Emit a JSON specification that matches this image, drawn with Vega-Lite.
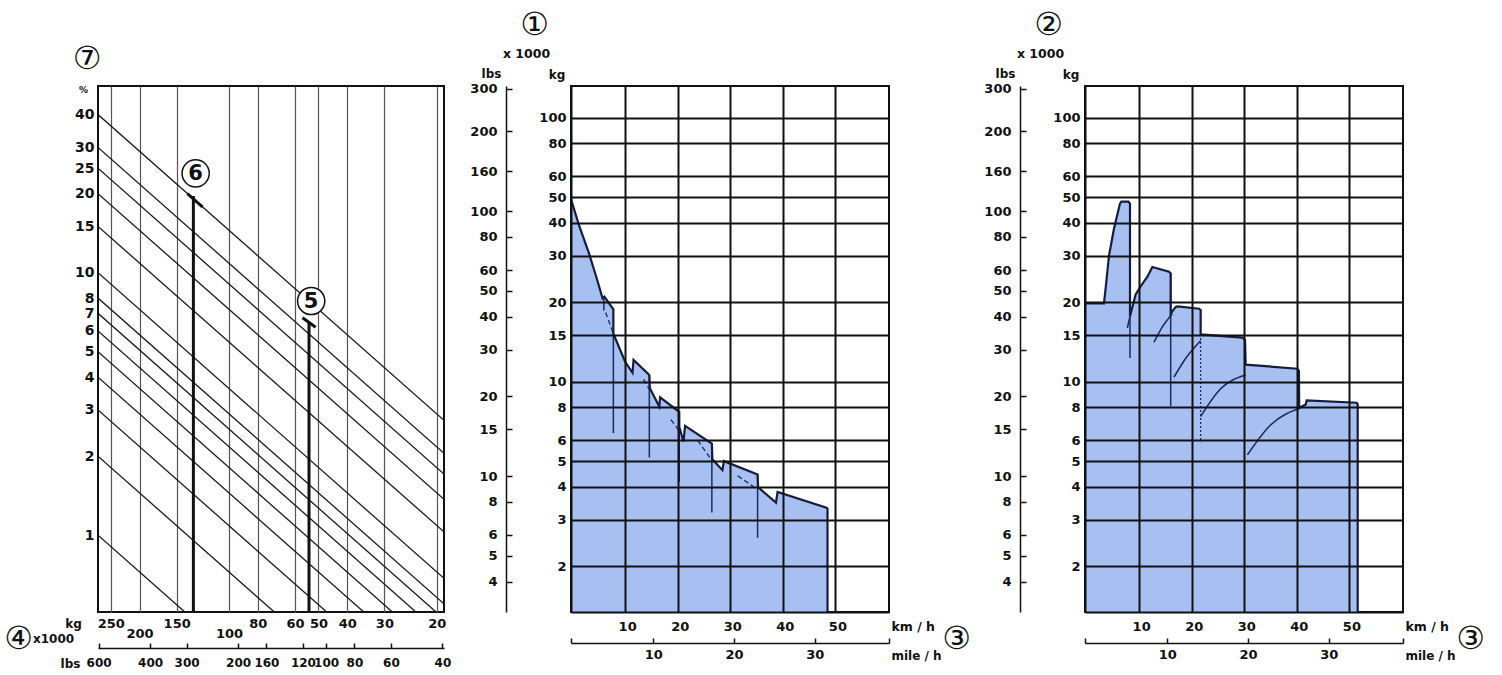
{
  "$schema": "https://vega.github.io/schema/vega-lite/v6.json",
  "background": "white",
  "padding": {"left": 2, "top": 7, "right": 5, "bottom": 5},
  "config": {
    "view": {"stroke": "#111111", "strokeWidth": 2},
    "font": "DejaVu Sans",
    "axis": {
      "labelFont": "DejaVu Sans", "labelFontWeight": "bold", "labelFontSize": 13, "labelColor": "#111111",
      "titleFont": "DejaVu Sans", "titleFontWeight": "bold", "titleColor": "#111111", "titleFontSize": 12,
      "labelFlush": false, "labelOverlap": false, "labelBound": false,
      "titleAlign": "center", "titleBaseline": "middle", "grid": false
    }
  },
  "datasets": {
    "gradeLines": [
      {"s":40,"w":276,"g":40},{"s":40,"w":18.9,"g":2.74},
      {"s":30,"w":276,"g":30},{"s":30,"w":18.9,"g":2.05},
      {"s":25,"w":276,"g":25},{"s":25,"w":18.9,"g":1.71},
      {"s":20,"w":276,"g":20},{"s":20,"w":18.9,"g":1.37},
      {"s":15,"w":276,"g":15},{"s":15,"w":18.9,"g":1.03},
      {"s":10,"w":276,"g":10},{"s":10,"w":18.9,"g":0.685},
      {"s":8,"w":276,"g":8},{"s":8,"w":18.9,"g":0.548},
      {"s":7,"w":276,"g":7},{"s":7,"w":20.1,"g":0.51},
      {"s":6,"w":276,"g":6},{"s":6,"w":23.5,"g":0.51},
      {"s":5,"w":276,"g":5},{"s":5,"w":28.2,"g":0.51},
      {"s":4,"w":276,"g":4},{"s":4,"w":35.2,"g":0.51},
      {"s":3,"w":276,"g":3},{"s":3,"w":46.9,"g":0.51},
      {"s":2,"w":276,"g":2},{"s":2,"w":70.4,"g":0.51},
      {"s":1,"w":276,"g":1},{"s":1,"w":140.8,"g":0.51}
    ],
    "leftMarks": [{"w":131.8,"g1":0.51,"g2":19.6},{"w":53.8,"g1":0.51,"g2":6.5}],
    "leftHooks": [{"w1":138.1,"g1":20.0,"w2":122.9,"g2":17.8},{"w1":56.6,"g1":6.73,"w2":51.1,"g2":6.2}],
    "leftCircles": [{"w":129.5,"g":23.9,"t":"6"},{"w":52.9,"g":7.8,"t":"5"}],
    "midEnv": [
      {"i":0,"k":-0.3,"v":49.2},{"i":1,"k":1.25,"v":39.0},{"i":2,"k":3.16,"v":30.5},{"i":3,"k":4.6,"v":24.6},
      {"i":4,"k":5.7,"v":20.7},{"i":5,"k":6.05,"v":21.0},{"i":6,"k":7.76,"v":18.8},{"i":7,"k":7.76,"v":15.2},
      {"i":8,"k":10.0,"v":11.9},{"i":9,"k":11.4,"v":10.8},{"i":10,"k":11.6,"v":12.1},{"i":11,"k":14.6,"v":10.6},
      {"i":12,"k":14.7,"v":9.45},{"i":13,"k":16.5,"v":8.05},{"i":14,"k":16.65,"v":8.72},{"i":15,"k":20.3,"v":7.69},
      {"i":16,"k":20.3,"v":6.75},{"i":17,"k":21.1,"v":5.92},{"i":18,"k":21.4,"v":6.8},{"i":19,"k":26.5,"v":5.82},
      {"i":20,"k":26.6,"v":5.08},{"i":21,"k":28.5,"v":4.62},{"i":22,"k":28.8,"v":5.0},{"i":23,"k":35.2,"v":4.45},
      {"i":24,"k":35.3,"v":3.98},{"i":25,"k":38.7,"v":3.48},{"i":26,"k":39.0,"v":3.82},{"i":27,"k":48.3,"v":3.33},
      {"i":28,"k":48.5,"v":3.3},{"i":29,"k":48.5,"v":1.34}
    ],
    "midThin": [
      {"k1":5.95,"v1":21.0,"k2":5.95,"v2":18.6},
      {"k1":7.76,"v1":15.2,"k2":7.76,"v2":6.38},
      {"k1":14.6,"v1":10.6,"k2":14.6,"v2":5.16},
      {"k1":20.3,"v1":7.69,"k2":20.3,"v2":4.17},
      {"k1":26.5,"v1":5.82,"k2":26.5,"v2":3.19},
      {"k1":35.2,"v1":4.45,"k2":35.2,"v2":2.56}
    ],
    "midDash": [
      {"k1":6.3,"v1":18.3,"k2":7.76,"v2":15.2},
      {"k1":13.5,"v1":10.2,"k2":14.6,"v2":9.35},
      {"k1":18.7,"v1":7.18,"k2":20.3,"v2":6.5},
      {"k1":23.8,"v1":6.0,"k2":26.6,"v2":5.0},
      {"k1":31.4,"v1":4.4,"k2":35.2,"v2":3.9}
    ],
    "rightEnv": [
      {"i":0,"k":-0.3,"v":19.8},{"i":1,"k":3.31,"v":19.8},{"i":2,"k":3.63,"v":22.6},{"i":3,"k":4.26,"v":30.0},
      {"i":4,"k":5.21,"v":38.0},{"i":5,"k":6.35,"v":47.3},{"i":6,"k":6.62,"v":48.1},{"i":7,"k":7.95,"v":48.1},
      {"i":8,"k":8.26,"v":47.3},{"i":9,"k":8.26,"v":17.7},{"i":10,"k":9.34,"v":21.4},{"i":11,"k":10.3,"v":23.0},
      {"i":12,"k":11.57,"v":25.0},{"i":13,"k":12.52,"v":27.2},{"i":14,"k":15.68,"v":26.1},{"i":15,"k":16.0,"v":25.7},
      {"i":16,"k":16.0,"v":18.1},{"i":17,"k":16.95,"v":19.2},{"i":18,"k":17.33,"v":19.3},{"i":19,"k":21.39,"v":18.9},
      {"i":20,"k":21.7,"v":18.7},{"i":21,"k":21.7,"v":15.1},{"i":22,"k":29.64,"v":14.7},{"i":23,"k":30.14,"v":14.4},
      {"i":24,"k":30.27,"v":11.6},{"i":25,"k":40.1,"v":11.2},{"i":26,"k":40.4,"v":11.0},{"i":27,"k":40.45,"v":7.96},
      {"i":28,"k":41.69,"v":8.2},{"i":29,"k":41.88,"v":8.5},{"i":30,"k":51.39,"v":8.32},{"i":31,"k":51.58,"v":8.2},
      {"i":32,"k":51.58,"v":1.34}
    ],
    "rightThin": [
      {"k1":8.26,"v1":47.3,"k2":8.26,"v2":12.3},
      {"k1":16.0,"v1":25.7,"k2":16.0,"v2":8.07}
    ],
    "rightDash": [
      {"k1":21.7,"v1":18.7,"k2":21.7,"v2":5.9}
    ],
    "rightCurves": [
      {"c":1,"k":7.76,"v":16.0},{"c":1,"k":8.0,"v":16.8},{"c":1,"k":8.26,"v":17.7},
      {"c":2,"k":12.82,"v":14.1},{"c":2,"k":14.48,"v":16.2},{"c":2,"k":16.32,"v":18.1},
      {"c":3,"k":16.63,"v":10.4},{"c":3,"k":19.04,"v":12.4},{"c":3,"k":21.7,"v":14.3},
      {"c":4,"k":21.7,"v":7.38},{"c":4,"k":25.5,"v":9.4},{"c":4,"k":30.27,"v":10.6},
      {"c":5,"k":30.6,"v":5.28},{"c":5,"k":35.0,"v":6.85},{"c":5,"k":40.7,"v":7.95}
    ]
  },
  "spacing": 127,
  "bounds": "flush",
  "hconcat": [
    {
      "width": 346, "height": 526,
      "resolve": {"scale": {"x": "independent", "y": "independent"}},
      "layer": [
        {
          "data": {"name": "gradeLines"},
          "mark": {"type": "line", "color": "#1a1a1a", "strokeWidth": 1.3, "clip": true},
          "encoding": {
            "x": {"field": "w", "type": "quantitative",
              "scale": {"type": "log", "domain": [18.9, 276], "reverse": true, "nice": false},
              "axis": {"orient": "bottom", "values": [250,200,150,100,80,60,50,40,30,20],
                "grid": true, "gridColor": "#555555", "gridWidth": 1.2, "ticks": false, "tickSize": 0, "domain": false,
                "labelPadding": {"condition": {"test": "datum.value == 200 || datum.value == 100", "value": 15}, "value": 5},
                "title": "kg", "titleX": -25, "titleY": 11, "titleAngle": 0}},
            "y": {"field": "g", "type": "quantitative",
              "scale": {"type": "log", "domain": [0.51, 51.4], "nice": false},
              "axis": {"orient": "left", "values": [1,2,3,4,5,6,7,8,10,15,20,25,30,40],
                "ticks": false, "tickSize": 0, "domain": false, "grid": false, "labelFontSize": 14, "labelPadding": 4,
                "title": "%", "titleX": -15, "titleY": 3, "titleAngle": 0, "titleFontSize": 9}},
            "detail": {"field": "s", "type": "nominal"}
          }
        },
        {
          "data": {"name": "leftMarks"},
          "mark": {"type": "rule", "color": "#111111", "strokeWidth": 3},
          "encoding": {
            "x": {"field": "w", "type": "quantitative", "scale": {"type": "log", "domain": [18.9, 276], "reverse": true, "nice": false}, "axis": null},
            "y": {"field": "g1", "type": "quantitative", "scale": {"type": "log", "domain": [0.51, 51.4], "nice": false}, "axis": null},
            "y2": {"field": "g2"}
          }
        },
        {
          "data": {"name": "leftHooks"},
          "mark": {"type": "rule", "color": "#111111", "strokeWidth": 3},
          "encoding": {
            "x": {"field": "w1", "type": "quantitative", "scale": {"type": "log", "domain": [18.9, 276], "reverse": true, "nice": false}, "axis": null},
            "x2": {"field": "w2"},
            "y": {"field": "g1", "type": "quantitative", "scale": {"type": "log", "domain": [0.51, 51.4], "nice": false}, "axis": null},
            "y2": {"field": "g2"}
          }
        },
        {
          "data": {"name": "leftCircles"},
          "mark": {"type": "point", "shape": "circle", "filled": true, "fill": "white", "stroke": "#111111", "strokeWidth": 1.5, "size": 740, "opacity": 1},
          "encoding": {
            "x": {"field": "w", "type": "quantitative", "scale": {"type": "log", "domain": [18.9, 276], "reverse": true, "nice": false}, "axis": null},
            "y": {"field": "g", "type": "quantitative", "scale": {"type": "log", "domain": [0.51, 51.4], "nice": false}, "axis": null}
          }
        },
        {
          "data": {"name": "leftCircles"},
          "mark": {"type": "text", "font": "DejaVu Sans", "fontSize": 21, "fontWeight": "bold", "color": "#111111", "align": "center", "baseline": "middle", "dy": 1},
          "encoding": {
            "x": {"field": "w", "type": "quantitative", "scale": {"type": "log", "domain": [18.9, 276], "reverse": true, "nice": false}, "axis": null},
            "y": {"field": "g", "type": "quantitative", "scale": {"type": "log", "domain": [0.51, 51.4], "nice": false}, "axis": null},
            "text": {"field": "t", "type": "nominal"}
          }
        },
        {
          "data": {"values": [{"lb": 100, "d": 0.5}]},
          "mark": {"type": "point", "opacity": 0},
          "encoding": {
            "x": {"field": "lb", "type": "quantitative",
              "scale": {"type": "log", "domain": [39.5, 603], "reverse": true, "nice": false},
              "axis": {"orient": "bottom", "offset": 36, "values": [600,400,300,200,160,120,100,80,60,40],
                "domain": true, "domainColor": "#111111", "domainWidth": 1.5,
                "ticks": true, "tickSize": -5, "tickColor": "#111111", "tickWidth": 1.5, "grid": false,
                "labelFontSize": 12, "labelPadding": 14.5, "title": "lbs", "titleX": -28, "titleY": 15, "titleAngle": 0}},
            "y": {"field": "d", "type": "quantitative", "scale": {"domain": [0, 1]},
              "axis": {"orient": "left", "labels": false, "ticks": false, "domain": false, "grid": false,
                "title": "x1000", "titleX": -45, "titleY": 552, "titleAngle": 0, "titleFontSize": 12}}
          }
        },
        {
          "data": {"values": [{"a": 0.5, "b": 0.5}]},
          "mark": {"type": "point", "opacity": 0},
          "encoding": {
            "x": {"field": "a", "type": "quantitative", "scale": {"domain": [0, 1]},
              "axis": {"orient": "bottom", "labels": false, "ticks": false, "domain": false, "grid": false,
                "title": "④", "titleX": -80, "titleY": 26, "titleAngle": 0, "titleFontSize": 32, "titleFontWeight": "normal"}},
            "y": {"field": "b", "type": "quantitative", "scale": {"domain": [0, 1]},
              "axis": {"orient": "left", "labels": false, "ticks": false, "domain": false, "grid": false,
                "title": "⑦", "titleX": -11.5, "titleY": -28, "titleAngle": 0, "titleFontSize": 32, "titleFontWeight": "normal"}}
          }
        }
      ]
    },
    {
      "spacing": 196,
      "bounds": "flush",
      "hconcat": [
        {
          "width": 318, "height": 526,
          "resolve": {"scale": {"x": "independent", "y": "independent"}},
          "layer": [
            {
              "data": {"name": "midEnv"},
              "mark": {"type": "area", "fill": "#a8bff2", "stroke": null, "fillOpacity": 1, "orient": "vertical"},
              "encoding": {
                "x": {"field": "k", "type": "quantitative",
                  "scale": {"type": "linear", "domain": [-0.3, 60.2], "nice": false, "zero": false},
                  "axis": {"orient": "bottom", "values": [10,20,30,40,50], "grid": true, "gridColor": "#111111", "gridWidth": 2,
                    "domain": true, "domainColor": "#111111", "domainWidth": 2, "ticks": false, "tickSize": 0,
                    "labelPadding": 8, "labelOffset": 2, "zindex": 1,
                    "title": "km / h", "titleX": 320, "titleY": 14, "titleAlign": "left", "titleAngle": 0, "titleFontSize": 12.5}},
                "y": {"field": "v", "type": "quantitative",
                  "scale": {"type": "log", "domain": [1.34, 132], "nice": false},
                  "axis": {"orient": "left", "values": [2,3,4,5,6,8,10,15,20,30,40,50,60,80,100], "grid": true, "gridColor": "#111111", "gridWidth": 2,
                    "domain": true, "domainColor": "#111111", "domainWidth": 2, "ticks": false, "tickSize": 0,
                    "labelPadding": 5, "zindex": 1,
                    "title": "kg", "titleX": -14.5, "titleY": -12, "titleAngle": 0}},
                "y2": {"datum": 1.34}
              }
            },
            {
              "data": {"name": "midThin"},
              "mark": {"type": "rule", "color": "#1c2a5e", "strokeWidth": 1.5},
              "encoding": {
                "x": {"field": "k1", "type": "quantitative", "scale": {"type": "linear", "domain": [-0.3, 60.2], "nice": false, "zero": false}, "axis": null},
                "x2": {"field": "k2"},
                "y": {"field": "v1", "type": "quantitative", "scale": {"type": "log", "domain": [1.34, 132], "nice": false}, "axis": null},
                "y2": {"field": "v2"}
              }
            },
            {
              "data": {"name": "midDash"},
              "mark": {"type": "rule", "color": "#1c2a5e", "strokeWidth": 1.3, "strokeDash": [5, 3]},
              "encoding": {
                "x": {"field": "k1", "type": "quantitative", "scale": {"type": "linear", "domain": [-0.3, 60.2], "nice": false, "zero": false}, "axis": null},
                "x2": {"field": "k2"},
                "y": {"field": "v1", "type": "quantitative", "scale": {"type": "log", "domain": [1.34, 132], "nice": false}, "axis": null},
                "y2": {"field": "v2"}
              }
            },
            {
              "data": {"name": "midEnv"},
              "mark": {"type": "line", "color": "#141c40", "strokeWidth": 2.2, "clip": true},
              "encoding": {
                "x": {"field": "k", "type": "quantitative", "scale": {"type": "linear", "domain": [-0.3, 60.2], "nice": false, "zero": false}, "axis": null},
                "y": {"field": "v", "type": "quantitative", "scale": {"type": "log", "domain": [1.34, 132], "nice": false}, "axis": null},
                "order": {"field": "i", "type": "quantitative"}
              }
            },
            {
              "data": {"values": [{"mph": 10, "lbs": 10}]},
              "mark": {"type": "point", "opacity": 0},
              "encoding": {
                "x": {"field": "mph", "type": "quantitative",
                  "scale": {"type": "linear", "domain": [-0.2, 39.2], "nice": false, "zero": false},
                  "axis": {"orient": "bottom", "offset": 31, "values": [-0.2, 10, 20, 30, 39.2],
                    "labelExpr": "datum.value < 0 || datum.value > 35 ? '' : datum.label",
                    "domain": true, "domainColor": "#111111", "domainWidth": 1.5,
                    "ticks": true, "tickSize": -5, "tickWidth": 1.5, "tickColor": "#111111", "grid": false,
                    "labelPadding": 10.5, "title": "mile / h", "titleX": 320, "titleY": 12, "titleAlign": "left", "titleAngle": 0}},
                "y": {"field": "lbs", "type": "quantitative",
                  "scale": {"type": "log", "domain": [3.07, 297], "nice": false},
                  "axis": {"orient": "left", "offset": 65, "values": [4,5,6,8,10,15,20,30,40,50,60,80,100,141.7,200,290],
                    "labelExpr": "datum.value == 141.7 ? '160' : datum.value == 290 ? '300' : datum.label",
                    "domain": true, "domainColor": "#111111", "domainWidth": 1.5,
                    "ticks": true, "tickSize": -6, "tickWidth": 1.5, "tickColor": "#111111", "grid": false,
                    "labelPadding": 15, "title": "lbs", "titleX": -15, "titleY": -13, "titleAngle": 0}}
              }
            },
            {
              "data": {"values": [{"a": 0.5, "b": 0.5}]},
              "mark": {"type": "point", "opacity": 0},
              "encoding": {
                "x": {"field": "a", "type": "quantitative", "scale": {"domain": [0, 1]},
                  "axis": {"orient": "bottom", "labels": false, "ticks": false, "domain": false, "grid": false,
                    "title": "③", "titleX": 385, "titleY": 26, "titleAngle": 0, "titleFontSize": 32, "titleFontWeight": "normal"}},
                "y": {"field": "b", "type": "quantitative", "scale": {"domain": [0, 1]},
                  "axis": {"orient": "left", "labels": false, "ticks": false, "domain": false, "grid": false,
                    "title": "①", "titleX": -37, "titleY": -62, "titleAngle": 0, "titleFontSize": 32, "titleFontWeight": "normal"}}
              }
            },
            {
              "data": {"values": [{"c": 0.5}]},
              "mark": {"type": "point", "opacity": 0},
              "encoding": {
                "y": {"field": "c", "type": "quantitative", "scale": {"domain": [0, 1]},
                  "axis": {"orient": "left", "labels": false, "ticks": false, "domain": false, "grid": false,
                    "title": "x 1000", "titleX": -45, "titleY": -33, "titleAngle": 0, "titleFontSize": 12.5}}
              }
            }
          ]
        },
        {
          "width": 318, "height": 526,
          "resolve": {"scale": {"x": "independent", "y": "independent"}},
          "layer": [
            {
              "data": {"name": "rightEnv"},
              "mark": {"type": "area", "fill": "#a8bff2", "stroke": null, "fillOpacity": 1, "orient": "vertical"},
              "encoding": {
                "x": {"field": "k", "type": "quantitative",
                  "scale": {"type": "linear", "domain": [-0.3, 60.2], "nice": false, "zero": false},
                  "axis": {"orient": "bottom", "values": [10,20,30,40,50], "grid": true, "gridColor": "#111111", "gridWidth": 2,
                    "domain": true, "domainColor": "#111111", "domainWidth": 2, "ticks": false, "tickSize": 0,
                    "labelPadding": 8, "labelOffset": 2, "zindex": 1,
                    "title": "km / h", "titleX": 320, "titleY": 14, "titleAlign": "left", "titleAngle": 0, "titleFontSize": 12.5}},
                "y": {"field": "v", "type": "quantitative",
                  "scale": {"type": "log", "domain": [1.34, 132], "nice": false},
                  "axis": {"orient": "left", "values": [2,3,4,5,6,8,10,15,20,30,40,50,60,80,100], "grid": true, "gridColor": "#111111", "gridWidth": 2,
                    "domain": true, "domainColor": "#111111", "domainWidth": 2, "ticks": false, "tickSize": 0,
                    "labelPadding": 5, "zindex": 1,
                    "title": "kg", "titleX": -14.5, "titleY": -12, "titleAngle": 0}},
                "y2": {"datum": 1.34}
              }
            },
            {
              "data": {"name": "rightThin"},
              "mark": {"type": "rule", "color": "#1c2a5e", "strokeWidth": 1.5},
              "encoding": {
                "x": {"field": "k1", "type": "quantitative", "scale": {"type": "linear", "domain": [-0.3, 60.2], "nice": false, "zero": false}, "axis": null},
                "x2": {"field": "k2"},
                "y": {"field": "v1", "type": "quantitative", "scale": {"type": "log", "domain": [1.34, 132], "nice": false}, "axis": null},
                "y2": {"field": "v2"}
              }
            },
            {
              "data": {"name": "rightDash"},
              "mark": {"type": "rule", "color": "#1c2a5e", "strokeWidth": 1.3, "strokeDash": [2, 2]},
              "encoding": {
                "x": {"field": "k1", "type": "quantitative", "scale": {"type": "linear", "domain": [-0.3, 60.2], "nice": false, "zero": false}, "axis": null},
                "x2": {"field": "k2"},
                "y": {"field": "v1", "type": "quantitative", "scale": {"type": "log", "domain": [1.34, 132], "nice": false}, "axis": null},
                "y2": {"field": "v2"}
              }
            },
            {
              "data": {"name": "rightCurves"},
              "mark": {"type": "line", "color": "#1c2a5e", "strokeWidth": 1.6, "interpolate": "monotone"},
              "encoding": {
                "x": {"field": "k", "type": "quantitative", "scale": {"type": "linear", "domain": [-0.3, 60.2], "nice": false, "zero": false}, "axis": null},
                "y": {"field": "v", "type": "quantitative", "scale": {"type": "log", "domain": [1.34, 132], "nice": false}, "axis": null},
                "detail": {"field": "c", "type": "nominal"}
              }
            },
            {
              "data": {"name": "rightEnv"},
              "mark": {"type": "line", "color": "#141c40", "strokeWidth": 2.2, "clip": true},
              "encoding": {
                "x": {"field": "k", "type": "quantitative", "scale": {"type": "linear", "domain": [-0.3, 60.2], "nice": false, "zero": false}, "axis": null},
                "y": {"field": "v", "type": "quantitative", "scale": {"type": "log", "domain": [1.34, 132], "nice": false}, "axis": null},
                "order": {"field": "i", "type": "quantitative"}
              }
            },
            {
              "data": {"values": [{"mph": 10, "lbs": 10}]},
              "mark": {"type": "point", "opacity": 0},
              "encoding": {
                "x": {"field": "mph", "type": "quantitative",
                  "scale": {"type": "linear", "domain": [-0.2, 39.2], "nice": false, "zero": false},
                  "axis": {"orient": "bottom", "offset": 31, "values": [-0.2, 10, 20, 30, 39.2],
                    "labelExpr": "datum.value < 0 || datum.value > 35 ? '' : datum.label",
                    "domain": true, "domainColor": "#111111", "domainWidth": 1.5,
                    "ticks": true, "tickSize": -5, "tickWidth": 1.5, "tickColor": "#111111", "grid": false,
                    "labelPadding": 10.5, "title": "mile / h", "titleX": 320, "titleY": 12, "titleAlign": "left", "titleAngle": 0}},
                "y": {"field": "lbs", "type": "quantitative",
                  "scale": {"type": "log", "domain": [3.07, 297], "nice": false},
                  "axis": {"orient": "left", "offset": 65, "values": [4,5,6,8,10,15,20,30,40,50,60,80,100,141.7,200,290],
                    "labelExpr": "datum.value == 141.7 ? '160' : datum.value == 290 ? '300' : datum.label",
                    "domain": true, "domainColor": "#111111", "domainWidth": 1.5,
                    "ticks": true, "tickSize": -6, "tickWidth": 1.5, "tickColor": "#111111", "grid": false,
                    "labelPadding": 15, "title": "lbs", "titleX": -15, "titleY": -13, "titleAngle": 0}}
              }
            },
            {
              "data": {"values": [{"a": 0.5, "b": 0.5}]},
              "mark": {"type": "point", "opacity": 0},
              "encoding": {
                "x": {"field": "a", "type": "quantitative", "scale": {"domain": [0, 1]},
                  "axis": {"orient": "bottom", "labels": false, "ticks": false, "domain": false, "grid": false,
                    "title": "③", "titleX": 385, "titleY": 26, "titleAngle": 0, "titleFontSize": 32, "titleFontWeight": "normal"}},
                "y": {"field": "b", "type": "quantitative", "scale": {"domain": [0, 1]},
                  "axis": {"orient": "left", "labels": false, "ticks": false, "domain": false, "grid": false,
                    "title": "②", "titleX": -37, "titleY": -62, "titleAngle": 0, "titleFontSize": 32, "titleFontWeight": "normal"}}
              }
            },
            {
              "data": {"values": [{"c": 0.5}]},
              "mark": {"type": "point", "opacity": 0},
              "encoding": {
                "y": {"field": "c", "type": "quantitative", "scale": {"domain": [0, 1]},
                  "axis": {"orient": "left", "labels": false, "ticks": false, "domain": false, "grid": false,
                    "title": "x 1000", "titleX": -45, "titleY": -33, "titleAngle": 0, "titleFontSize": 12.5}}
              }
            }
          ]
        }
      ]
    }
  ]
}
